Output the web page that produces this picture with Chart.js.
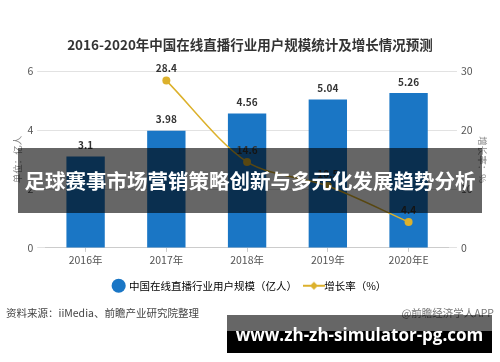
<!DOCTYPE html>
<html>
<head>
<meta charset="utf-8">
<script src="https://cdn.jsdelivr.net/npm/chart.js@4.4.1/dist/chart.umd.min.js"></script>
<style>
  html, body { margin: 0; padding: 0; background: #fff; }
  #wrap { position: relative; width: 500px; height: 362px; overflow: hidden; font-family: "Noto Sans CJK SC", "Noto Sans", sans-serif; }
  #chart { position: absolute; left: 0; top: 0; }
  .banner { position: absolute; left: 18px; top: 148px; width: 464px; height: 65px; background: rgba(0,0,0,0.6);
    color: #fff; font-weight: bold; font-size: 20.5px; line-height: 65px; text-align: center; white-space: nowrap; letter-spacing: 0; }
  .source { position: absolute; left: 6px; top: 305px; font-size: 10.5px; color: #444; }
  .brand { position: absolute; right: 6px; top: 305px; font-size: 10.5px; color: #777; }
  .site { position: absolute; left: 227px; top: 315px; width: 265px; height: 38px; }
  .site .top { height: 16px; background: rgba(0,0,0,0.6); }
  .site .bot { height: 22px; background: #000; }
  .site span { position: absolute; left: 0; top: 8px; width: 265px; text-align: center; color: #fff; font-weight: bold;
    font-size: 17px; font-family: "Open Sans", "DejaVu Sans", sans-serif; white-space: nowrap; }
</style>
</head>
<body>
<div id="wrap">
  <canvas id="chart" width="500" height="362"></canvas>
  <div class="banner">足球赛事市场营销策略创新与多元化发展趋势分析</div>
  <div class="source">资料来源：iiMedia、前瞻产业研究院整理</div>
  <div class="brand">@前瞻经济学人APP</div>
  <div class="site"><div class="top"></div><div class="bot"></div><span>www.zh-zh-simulator-pg.com</span></div>
</div>
<script>
const years = ["2016年", "2017年", "2018年", "2019年", "2020年E"];
const users = [3.1, 3.98, 4.56, 5.04, 5.26];
const growth = [null, 28.4, 14.6, 10.5, 4.4];
const leftTicks = [0, 2, 4, 6];
const rightTicks = [0, 10, 20, 30];

const cjk = '"Noto Sans CJK SC", "Noto Sans", sans-serif';
const blue = "#1a76c5";
const gold = "#dcb12c";

// legend marker for the line series: short line with a dot
const lineMark = document.createElement("canvas");
lineMark.width = 22; lineMark.height = 10;
(function () {
  const c = lineMark.getContext("2d");
  c.strokeStyle = gold; c.lineWidth = 2;
  c.beginPath(); c.moveTo(0, 5); c.lineTo(22, 5); c.stroke();
  c.fillStyle = gold;
  c.beginPath(); c.moveTo(11, 1); c.lineTo(15, 5); c.lineTo(11, 9); c.lineTo(7, 5); c.closePath(); c.fill();
})();

const valueLabels = {
  id: "valueLabels",
  afterDatasetsDraw(chart) {
    const ctx = chart.ctx;
    ctx.save();
    ctx.textAlign = "center";
    ctx.textBaseline = "bottom";
    ctx.fillStyle = "#333";
    ctx.font = "bold 10px " + cjk;
    chart.data.datasets.forEach((ds, i) => {
      const meta = chart.getDatasetMeta(i);
      meta.data.forEach((el, j) => {
        const v = ds.data[j];
        if (v == null) return;
        const off = ds.type === "bar" ? 6 : 7;
        ctx.fillText(v.toString(), el.x, el.y - off);
      });
    });
    ctx.restore();
  }
};

new Chart(document.getElementById("chart"), {
  data: {
    labels: years,
    datasets: [
      {
        type: "line",
        label: "增长率（%）",
        data: growth,
        yAxisID: "y1",
        borderColor: gold,
        backgroundColor: gold,
        borderWidth: 1.5,
        pointRadius: 4,
        pointBackgroundColor: gold,
        pointBorderWidth: 0,
        tension: 0.3,
        order: 0
      },
      {
        type: "bar",
        label: "中国在线直播行业用户规模（亿人）",
        data: users,
        yAxisID: "y",
        backgroundColor: blue,
        barPercentage: 0.95,
        categoryPercentage: 0.5,
        order: 1
      }
    ]
  },
  options: {
    responsive: false,
    animation: false,
    layout: { padding: { top: 37, left: 12, right: 12, bottom: 61 } },
    plugins: {
      title: {
        display: true,
        text: "2016-2020年中国在线直播行业用户规模统计及增长情况预测",
        font: { family: cjk, size: 13.5, weight: "bold" },
        color: "#333",
        padding: { top: 0, bottom: 18 }
      },
      legend: {
        position: "bottom",
        labels: {
          font: { family: cjk, size: 10.5 },
          color: "#333",
          usePointStyle: true,
          boxWidth: 10,
          boxHeight: 10,
          padding: 12,
          generateLabels(chart) {
            return [
              { text: "中国在线直播行业用户规模（亿人）", fillStyle: blue, strokeStyle: blue, lineWidth: 0, pointStyle: "circle", datasetIndex: 1 },
              { text: "增长率（%）", fillStyle: gold, strokeStyle: gold, lineWidth: 0, pointStyle: lineMark, datasetIndex: 0 }
            ];
          }
        }
      },
      tooltip: { enabled: false }
    },
    scales: {
      x: {
        grid: { display: true, drawOnChartArea: false, offset: false, tickLength: 4, color: "#ccc" },
        border: { color: "#ccc" },
        ticks: { font: { family: cjk, size: 10.5 }, color: "#555", padding: 2 }
      },
      y: {
        position: "left",
        min: 0, max: 6,
        afterBuildTicks(axis) { axis.ticks = leftTicks.map(v => ({ value: v })); },
        grid: { color: "#e2e2e2", tickLength: 8 },
        border: { display: false },
        ticks: { font: { family: cjk, size: 10.5 }, color: "#555", padding: 4 },
        title: { display: true, text: "单位：亿人", font: { family: cjk, size: 9.5 }, color: "#888", padding: 0 }
      },
      y1: {
        position: "right",
        min: 0, max: 30,
        afterBuildTicks(axis) { axis.ticks = rightTicks.map(v => ({ value: v })); },
        grid: { drawOnChartArea: false, color: "#e2e2e2", tickLength: 8 },
        border: { display: false },
        ticks: { font: { family: cjk, size: 10.5 }, color: "#555", padding: 4 },
        title: { display: true, text: "增长率：%", font: { family: cjk, size: 9.5 }, color: "#888", padding: 0 }
      }
    }
  },
  plugins: [valueLabels]
});
</script>
</body>
</html>
